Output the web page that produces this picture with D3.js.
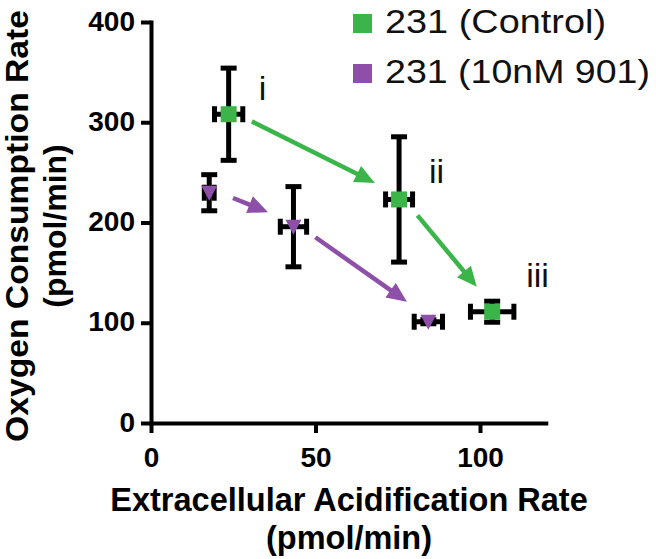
<!DOCTYPE html>
<html><head><meta charset="utf-8">
<script src="https://cdn.jsdelivr.net/npm/d3@7"></script>
<style>body{margin:0;background:#fff}svg{display:block}</style>
</head><body><svg id="c" width="656" height="559"></svg>
<script>
const seriesNames = ["231 (Control)", "231 (10nM 901)"];
const seriesColors = ["#3bb54a", "#8d4fa8"];
const ctrlECAR = [23.6, 75.4, 103.7];
const ctrlECARErr = [4.3, 4.1, 6.6];
const ctrlOCR = [308, 223, 111];
const ctrlOCRErr = [46, 62.5, 10.5];
const drugECAR = [17.7, 43.3, 84.3];
const drugECARErr = [1.5, 4.0, 4.3];
const drugOCR = [229.7, 195.8, 101];
const drugOCRErr = [18, 40, 2];
const pointLabels = ["i", "ii", "iii"];
const xTicks = [0, 50, 100];
const yTicks = [0, 100, 200, 300, 400];
const xTitle = ["Extracellular Acidification Rate", "(pmol/min)"];
const yTitle = ["Oxygen Consumption Rate", "(pmol/min)"];

const FONT = "'Liberation Sans', Arial, Helvetica, sans-serif";
const svg = d3.select("#c");
const x = d3.scaleLinear().domain([0, 120]).range([151, 545.8]);
const y = d3.scaleLinear().domain([0, 400]).range([423, 22]);

const series = [
  {name: seriesNames[0], color: seriesColors[0], shape: "square",
   pts: ctrlECAR.map((v, i) => ({x: v, xe: ctrlECARErr[i], y: ctrlOCR[i], ye: ctrlOCRErr[i]}))},
  {name: seriesNames[1], color: seriesColors[1], shape: "tri",
   pts: drugECAR.map((v, i) => ({x: v, xe: drugECARErr[i], y: drugOCR[i], ye: drugOCRErr[i]}))}
];

// axes
const gx = svg.append("g").attr("transform", `translate(0,${y(0)})`)
  .call(d3.axisBottom(x).tickValues(xTicks).tickSize(10).tickSizeOuter(0).tickPadding(10));
const gy = svg.append("g").attr("transform", `translate(${x(0)},0)`)
  .call(d3.axisLeft(y).tickValues(yTicks).tickSize(10).tickSizeOuter(0).tickPadding(5));
[gx, gy].forEach(g => {
  g.select(".domain").attr("stroke", "#000").attr("stroke-width", 4).attr("stroke-linecap", "square");
  g.selectAll(".tick line").attr("stroke", "#000").attr("stroke-width", 4);
  g.selectAll(".tick text").attr("fill", "#000").style("font-family", FONT)
    .style("font-size", "28px").style("font-weight", "bold");
});
gx.selectAll(".tick text").attr("dy", null).attr("y", 44);
gy.selectAll(".tick text").attr("dy", null).attr("y", 8).attr("x", -16);

// error bars
const cap = 8;
series.forEach(s => {
  const g = svg.append("g").attr("stroke", "#000").attr("stroke-width", 5).attr("fill", "none");
  s.pts.forEach(p => {
    const cx = x(p.x), cy = y(p.y);
    const x0 = x(p.x - p.xe), x1 = x(p.x + p.xe);
    const y0 = y(p.y - p.ye), y1 = y(p.y + p.ye);
    g.append("line").attr("x1", cx).attr("x2", cx).attr("y1", y0).attr("y2", y1);
    g.append("line").attr("x1", cx - cap).attr("x2", cx + cap).attr("y1", y0).attr("y2", y0);
    g.append("line").attr("x1", cx - cap).attr("x2", cx + cap).attr("y1", y1).attr("y2", y1);
    g.append("line").attr("x1", x0).attr("x2", x1).attr("y1", cy).attr("y2", cy);
    g.append("line").attr("x1", x0).attr("x2", x0).attr("y1", cy - cap).attr("y2", cy + cap);
    g.append("line").attr("x1", x1).attr("x2", x1).attr("y1", cy - cap).attr("y2", cy + cap);
  });
});

// markers
series.forEach(s => {
  const g = svg.append("g").attr("fill", s.color);
  s.pts.forEach(p => {
    const cx = x(p.x), cy = y(p.y);
    if (s.shape === "square") {
      g.append("rect").attr("x", cx - 8).attr("y", cy - 8).attr("width", 16).attr("height", 16);
    } else {
      g.append("path").attr("d", `M${cx - 8},${cy - 7}L${cx + 8},${cy - 7}L${cx},${cy + 8}Z`);
    }
  });
});

// arrows between consecutive points
series.forEach(s => {
  const g = svg.append("g");
  for (let i = 0; i < s.pts.length - 1; i++) {
    const ax = x(s.pts[i].x), ay = y(s.pts[i].y);
    const bx = x(s.pts[i + 1].x), by = y(s.pts[i + 1].y);
    const dx = bx - ax, dy = by - ay, L = Math.hypot(dx, dy);
    const ux = dx / L, uy = dy / L;
    const nx = uy, ny = -ux; // normal toward upper right
    const off = 4;
    const sx = ax + ux * 24 + nx * off, sy = ay + uy * 24 + ny * off;
    const tx = bx - ux * 29 + nx * off, ty = by - uy * 29 + ny * off;
    const hl = 20, hw = 9;
    const bxh = tx - ux * hl, byh = ty - uy * hl;
    g.append("line").attr("x1", sx).attr("y1", sy).attr("x2", bxh + ux * 2).attr("y2", byh + uy * 2)
      .attr("stroke", s.color).attr("stroke-width", 4.5);
    g.append("path")
      .attr("d", `M${tx},${ty}L${bxh + nx * hw},${byh + ny * hw}L${bxh - nx * hw},${byh - ny * hw}Z`)
      .attr("fill", s.color);
  }
});

// point labels
const labelOffsets = [[30, -14], [30, -16], [34, -25]];
svg.append("g").selectAll("text").data(series[0].pts).join("text")
  .attr("x", (p, i) => x(p.x) + labelOffsets[i][0])
  .attr("y", (p, i) => y(p.y) + labelOffsets[i][1])
  .text((p, i) => pointLabels[i])
  .style("font-family", FONT).style("font-size", "34px").attr("fill", "#111");

// legend
const lg = svg.append("g");
series.forEach((s, i) => {
  const row = lg.append("g").attr("transform", `translate(353,${14 + i * 50})`);
  row.append("rect").attr("width", 19).attr("height", 19).attr("fill", s.color);
  row.append("text").attr("x", 32).attr("y", 19).text(s.name)
    .attr("textLength", i === 0 ? 221 : 265).attr("lengthAdjust", "spacingAndGlyphs")
    .style("font-family", FONT).style("font-size", "33px").attr("fill", "#111");
});

// axis titles
const xt = svg.append("g").style("font-family", FONT).style("font-weight", "bold")
  .style("font-size", "32.5px").attr("text-anchor", "middle");
xTitle.forEach((t, i) => xt.append("text").attr("x", 349).attr("y", 511 + i * 38).text(t));
const yt = svg.append("g").style("font-family", FONT).style("font-weight", "bold")
  .style("font-size", "32px").attr("text-anchor", "middle");
yTitle.forEach((t, i) => yt.append("text")
  .attr("transform", `translate(${28 + i * 38},226) rotate(-90)`)
  .attr("textLength", i === 0 ? 432 : null).attr("lengthAdjust", "spacingAndGlyphs")
  .text(t));
</script>
</body></html>
